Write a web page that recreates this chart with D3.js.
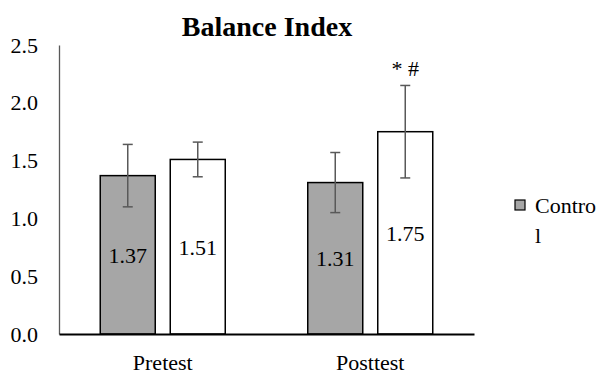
<!DOCTYPE html>
<html lang="en">
<head>
<meta charset="utf-8">
<title>Balance Index</title>
<style>
  body { margin: 0; background: #fff; }
  svg text { font-family: "Liberation Serif", "Times New Roman", serif; fill: #000; }
</style>
</head>
<body>
<div id="chart"></div>
<script src="https://cdn.jsdelivr.net/npm/d3@7"></script>
<script>
var categories = ["Pretest", "Posttest"];
var series = ["Control", "Experimental"];
var controlValues = [1.37, 1.31];
var controlErrors = [0.27, 0.26];
var expValues = [1.51, 1.75];
var expErrors = [0.15, 0.40];
var marks = ["", "* #"];
var yTicks = [0, 0.5, 1.0, 1.5, 2.0, 2.5];

var width = 609, height = 378;
var margin = {left: 59, right: 135, top: 45, bottom: 44};
var fs = "22px";

var svg = d3.select("#chart").append("svg")
    .attr("width", width)
    .attr("height", height);

var x = d3.scaleBand()
    .domain(categories)
    .range([margin.left, width - margin.right]);

var y = d3.scaleLinear()
    .domain([0, 2.5])
    .range([height - margin.bottom, margin.top]);

var barW = 55, gap = 15;

var data = [];
categories.forEach(function(c, i) {
  data.push({cat: c, s: "Control", v: controlValues[i], e: controlErrors[i], fill: "#a6a6a6"});
  data.push({cat: c, s: "Experimental", v: expValues[i], e: expErrors[i], fill: "#ffffff", mark: marks[i]});
});

function bx(d) {
  return x(d.cat) + x.bandwidth() / 2 - (barW * 2 + gap) / 2 + (d.s === "Control" ? 0 : barW + gap);
}

// title
svg.append("text")
    .attr("x", 267)
    .attr("y", 36)
    .attr("text-anchor", "middle")
    .style("font-size", "28px")
    .style("font-weight", "bold")
    .text("Balance Index");

// y axis
var yAxis = svg.append("g")
    .attr("transform", "translate(" + margin.left + ",0)")
    .call(d3.axisLeft(y).tickValues(yTicks).tickFormat(d3.format(".1f")).tickSize(0).tickPadding(21));
yAxis.attr("font-family", null).attr("font-size", null);
yAxis.select(".domain").attr("stroke", "#595959").attr("stroke-width", 1.3);
yAxis.selectAll("text").style("font-size", fs);

// bars
svg.append("g").selectAll("rect")
    .data(data)
  .enter().append("rect")
    .attr("x", bx)
    .attr("y", function(d) { return y(d.v); })
    .attr("width", barW)
    .attr("height", function(d) { return y(0) - y(d.v); })
    .attr("fill", function(d) { return d.fill; })
    .attr("stroke", "#000")
    .attr("stroke-width", 1.5);

// value labels
svg.append("g").selectAll("text")
    .data(data)
  .enter().append("text")
    .attr("x", function(d) { return bx(d) + barW / 2; })
    .attr("y", function(d) { return (y(d.v) + y(0)) / 2 + 8; })
    .attr("text-anchor", "middle")
    .style("font-size", fs)
    .text(function(d) { return d.v.toFixed(2); });

// error bars
var eb = svg.append("g").attr("stroke", "#595959").attr("stroke-width", 1.5);
data.forEach(function(d) {
  var cx = bx(d) + barW / 2;
  eb.append("line").attr("x1", cx).attr("x2", cx).attr("y1", y(d.v + d.e)).attr("y2", y(d.v - d.e));
  eb.append("line").attr("x1", cx - 5).attr("x2", cx + 5).attr("y1", y(d.v + d.e)).attr("y2", y(d.v + d.e));
  eb.append("line").attr("x1", cx - 5).attr("x2", cx + 5).attr("y1", y(d.v - d.e)).attr("y2", y(d.v - d.e));
});

// significance marks
svg.append("g").selectAll("text")
    .data(data.filter(function(d) { return d.mark; }))
  .enter().append("text")
    .attr("x", function(d) { return bx(d) + barW / 2; })
    .attr("y", function(d) { return y(d.v + d.e) - 9; })
    .attr("text-anchor", "middle")
    .style("font-size", fs)
    .text(function(d) { return d.mark; });

// x axis
var xAxis = svg.append("g")
    .attr("transform", "translate(0," + y(0) + ")")
    .call(d3.axisBottom(x).tickSize(0).tickPadding(20));
xAxis.attr("font-family", null).attr("font-size", null);
xAxis.select(".domain").attr("stroke", "#000").attr("stroke-width", 2);
xAxis.selectAll("text").style("font-size", fs);

// legend
var lg = svg.append("g").attr("transform", "translate(515,200)");
lg.append("rect")
    .attr("width", 10).attr("height", 10)
    .attr("fill", "#a6a6a6").attr("stroke", "#000").attr("stroke-width", 1.2);
lg.append("text").attr("x", 20).attr("y", 13).style("font-size", fs).text("Contro");
lg.append("text").attr("x", 20).attr("y", 43).style("font-size", fs).text("l");
</script>
</body>
</html>
